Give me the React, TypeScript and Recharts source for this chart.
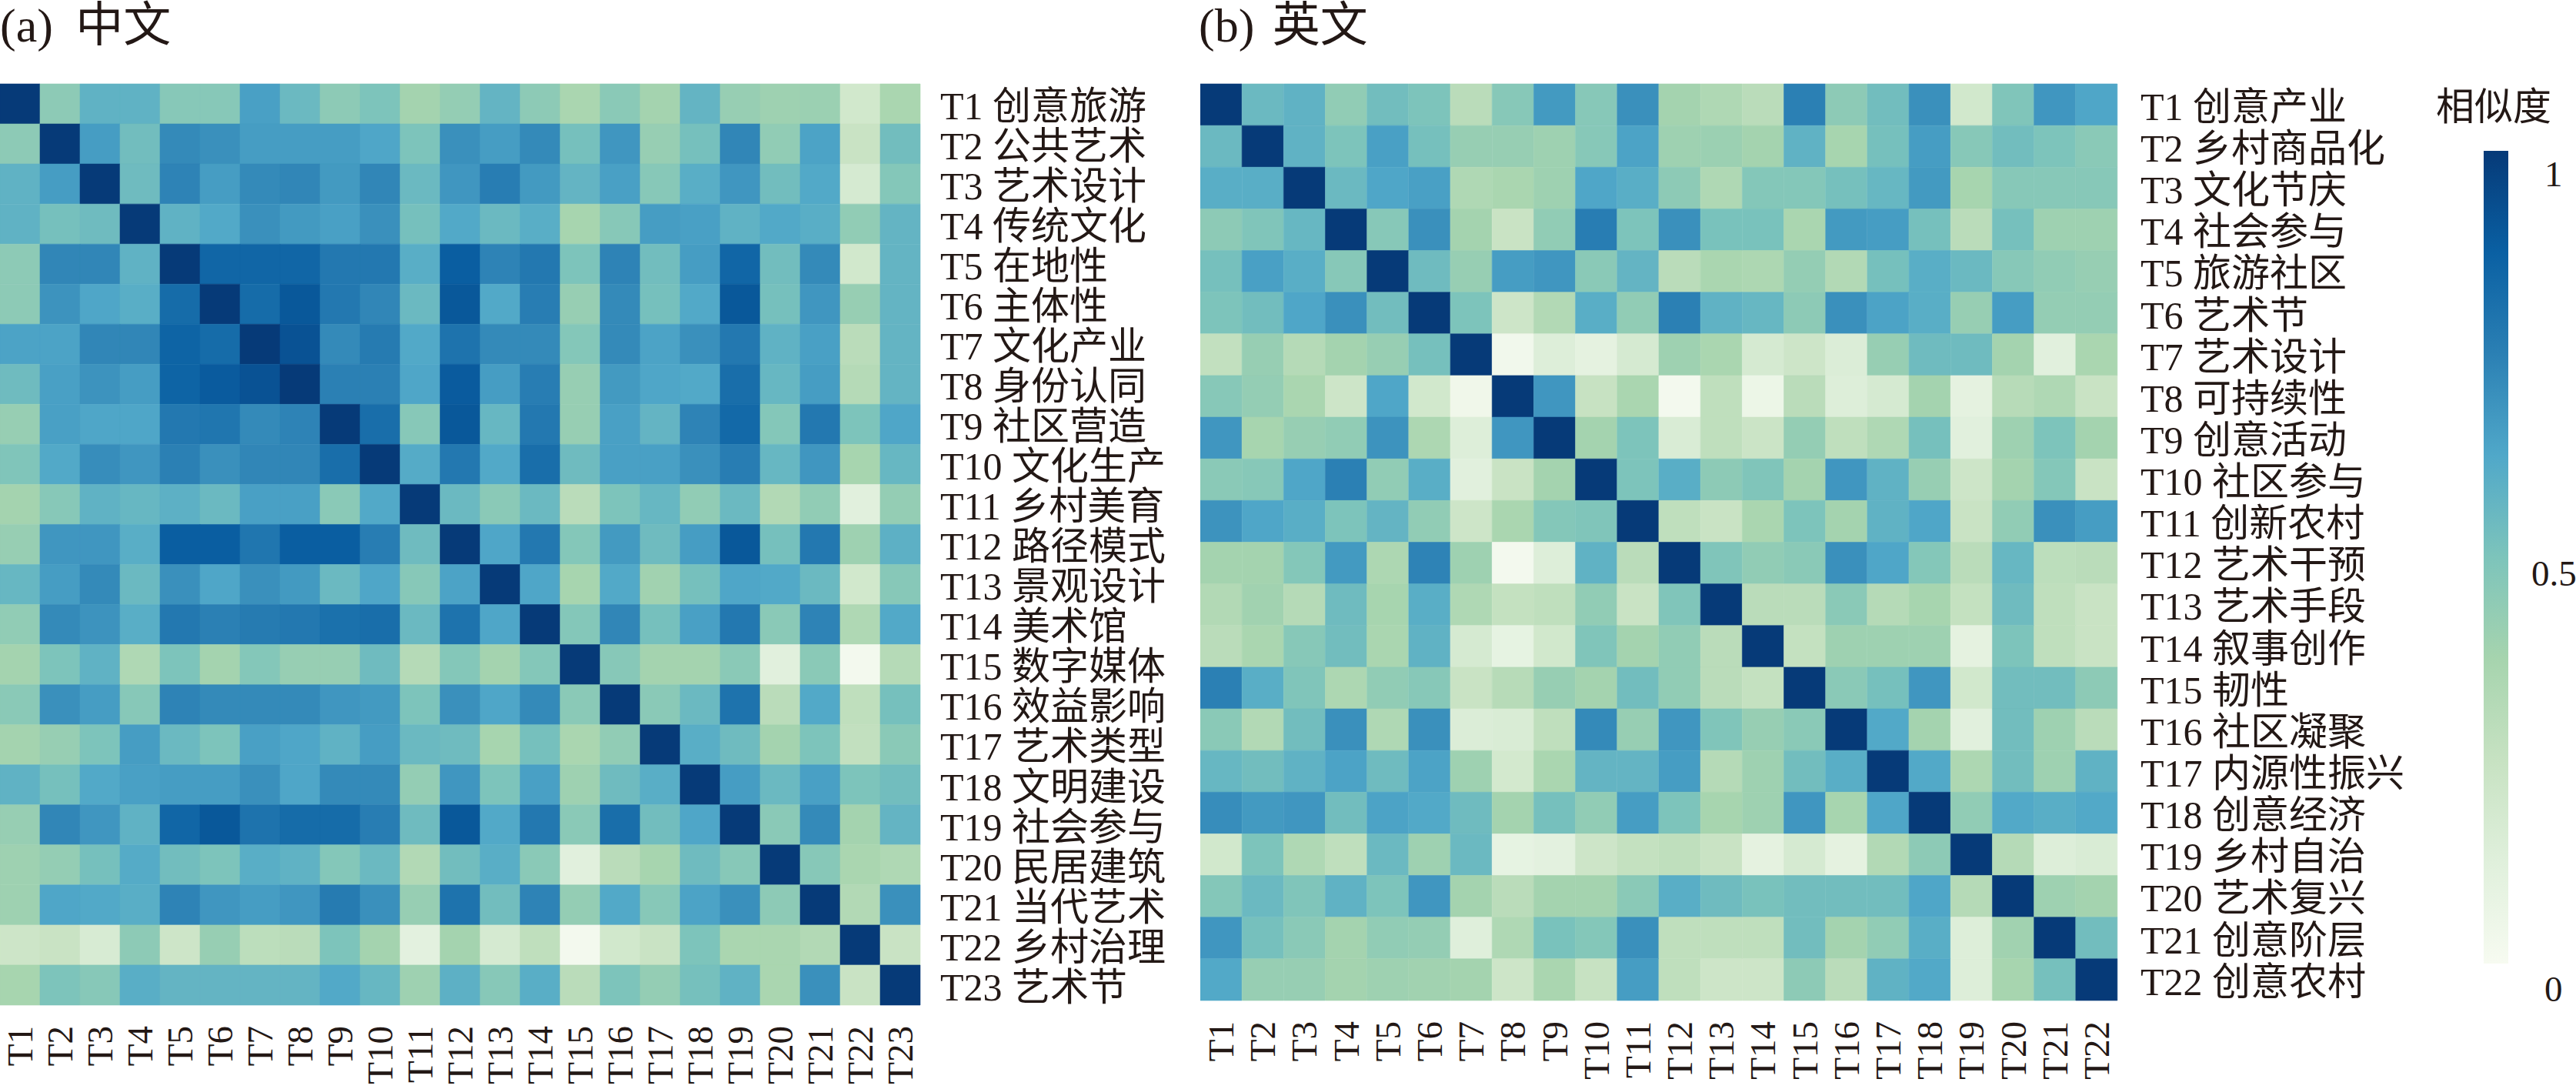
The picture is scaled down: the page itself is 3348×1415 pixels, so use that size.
import React from 'react';
import { BarChart, Bar, Cell, XAxis, YAxis } from 'recharts';

const zhTopics = ['创意旅游', '公共艺术', '艺术设计', '传统文化', '在地性', '主体性', '文化产业', '身份认同', '社区营造', '文化生产', '乡村美育', '路径模式', '景观设计', '美术馆', '数字媒体', '效益影响', '艺术类型', '文明建设', '社会参与', '民居建筑', '当代艺术', '乡村治理', '艺术节'];
const enTopics = ['创意产业', '乡村商品化', '文化节庆', '社会参与', '旅游社区', '艺术节', '艺术设计', '可持续性', '创意活动', '社区参与', '创新农村', '艺术干预', '艺术手段', '叙事创作', '韧性', '社区凝聚', '内源性振兴', '创意经济', '乡村自治', '艺术复兴', '创意阶层', '创意农村'];

const zhSimilarity = [
  [1, .45, .58, .58, .47, .47, .65, .55, .45, .5, .38, .43, .57, .45, .36, .46, .38, .57, .42, .4, .41, .2, .36],
  [.45, 1, .66, .53, .72, .7, .66, .66, .66, .63, .5, .7, .66, .72, .52, .68, .42, .52, .73, .44, .64, .24, .53],
  [.58, .66, 1, .54, .74, .66, .72, .73, .67, .73, .55, .68, .76, .67, .57, .65, .47, .6, .68, .53, .62, .18, .48],
  [.58, .52, .54, 1, .58, .62, .7, .67, .65, .7, .52, .62, .55, .6, .37, .47, .66, .65, .58, .62, .6, .44, .57],
  [.45, .73, .73, .58, 1, .85, .85, .85, .78, .78, .6, .88, .74, .78, .5, .74, .53, .66, .85, .53, .72, .2, .57],
  [.45, .69, .63, .6, .83, 1, .83, .9, .78, .73, .55, .9, .62, .76, .42, .72, .52, .62, .9, .52, .68, .42, .57],
  [.64, .64, .73, .73, .86, .83, 1, .92, .72, .77, .62, .8, .72, .72, .48, .72, .64, .7, .78, .58, .65, .3, .57],
  [.54, .65, .69, .66, .86, .89, .92, 1, .75, .75, .63, .89, .66, .76, .42, .67, .63, .62, .82, .56, .66, .32, .57],
  [.42, .65, .63, .63, .78, .79, .72, .74, 1, .82, .47, .9, .56, .78, .42, .65, .57, .74, .84, .48, .78, .5, .63],
  [.49, .62, .71, .68, .75, .7, .73, .73, .82, 1, .61, .78, .62, .82, .54, .65, .65, .7, .76, .56, .68, .37, .56],
  [.38, .47, .58, .56, .59, .55, .65, .65, .46, .62, 1, .55, .46, .55, .3, .5, .56, .44, .55, .33, .44, .12, .43],
  [.42, .68, .68, .6, .88, .88, .79, .88, .88, .76, .54, 1, .63, .78, .48, .67, .54, .66, .9, .52, .78, .4, .59],
  [.56, .66, .72, .55, .7, .63, .7, .67, .55, .63, .47, .64, 1, .63, .37, .62, .39, .52, .63, .62, .55, .2, .47],
  [.44, .72, .69, .6, .78, .75, .77, .78, .81, .82, .55, .8, .63, 1, .48, .73, .52, .65, .78, .46, .74, .34, .62],
  [.38, .5, .58, .34, .5, .38, .48, .42, .42, .54, .32, .48, .38, .48, 1, .47, .38, .38, .46, .12, .46, .02, .32],
  [.46, .7, .66, .47, .74, .72, .72, .72, .68, .67, .5, .7, .63, .72, .46, 1, .46, .55, .8, .3, .62, .28, .52],
  [.38, .42, .5, .66, .55, .5, .65, .63, .58, .66, .55, .54, .37, .52, .36, .44, 1, .6, .54, .38, .5, .27, .46],
  [.58, .52, .62, .65, .66, .66, .7, .63, .72, .72, .43, .68, .5, .65, .4, .54, .6, 1, .66, .55, .65, .5, .53],
  [.42, .73, .68, .58, .85, .9, .8, .83, .83, .76, .54, .9, .62, .78, .46, .82, .53, .63, 1, .46, .72, .38, .57],
  [.4, .43, .52, .61, .53, .5, .6, .58, .48, .55, .33, .53, .6, .46, .12, .3, .37, .54, .47, 1, .47, .36, .34],
  [.4, .63, .62, .6, .74, .68, .66, .68, .77, .7, .42, .8, .53, .74, .43, .62, .47, .64, .7, .45, 1, .33, .7],
  [.22, .24, .17, .45, .22, .42, .29, .3, .5, .38, .11, .38, .18, .28, .02, .2, .24, .5, .36, .36, .33, 1, .24],
  [.37, .5, .47, .6, .57, .57, .57, .57, .62, .56, .4, .59, .47, .6, .3, .5, .43, .52, .58, .36, .7, .24, 1],
];

const enSimilarity = [
  [1, .55, .58, .44, .53, .5, .3, .47, .67, .47, .7, .38, .34, .3, .75, .45, .53, .7, .2, .49, .68, .63],
  [.55, 1, .58, .5, .65, .52, .42, .42, .4, .47, .64, .4, .41, .38, .58, .37, .52, .66, .47, .53, .5, .46],
  [.6, .6, 1, .55, .63, .65, .34, .36, .4, .63, .6, .45, .34, .48, .48, .52, .56, .67, .37, .47, .47, .47],
  [.45, .49, .56, 1, .47, .7, .38, .24, .44, .76, .5, .7, .51, .51, .36, .67, .66, .52, .3, .52, .4, .4],
  [.52, .65, .6, .47, 1, .54, .42, .66, .68, .46, .57, .3, .36, .35, .43, .33, .52, .6, .55, .47, .44, .42],
  [.5, .53, .63, .7, .53, 1, .5, .22, .33, .6, .44, .75, .58, .56, .45, .7, .64, .6, .42, .66, .43, .43],
  [.27, .42, .32, .38, .42, .52, 1, .03, .14, .1, .18, .4, .36, .18, .22, .15, .42, .54, .54, .38, .12, .36],
  [.47, .43, .36, .22, .63, .2, .04, 1, .68, .25, .36, .02, .28, .06, .3, .14, .18, .38, .1, .31, .34, .24],
  [.68, .37, .42, .44, .69, .35, .14, .68, 1, .38, .5, .16, .28, .23, .43, .28, .34, .52, .12, .4, .5, .38],
  [.46, .47, .63, .75, .44, .6, .12, .24, .38, 1, .5, .6, .45, .49, .38, .68, .58, .42, .22, .38, .48, .24],
  [.69, .63, .6, .5, .57, .44, .22, .36, .48, .49, 1, .28, .24, .36, .5, .38, .58, .63, .24, .44, .7, .66],
  [.38, .38, .48, .67, .35, .74, .4, .02, .14, .58, .3, 1, .49, .44, .46, .7, .63, .48, .3, .56, .29, .3],
  [.33, .39, .32, .54, .37, .6, .34, .26, .28, .44, .24, .49, 1, .3, .3, .46, .32, .37, .26, .54, .28, .24],
  [.3, .36, .47, .53, .36, .58, .18, .09, .2, .49, .38, .44, .3, 1, .26, .4, .4, .4, .1, .5, .28, .24],
  [.75, .6, .49, .35, .44, .47, .24, .31, .42, .38, .53, .44, .3, .26, 1, .46, .52, .68, .2, .53, .53, .45],
  [.46, .33, .53, .7, .34, .7, .15, .16, .28, .72, .42, .68, .49, .42, .46, 1, .62, .38, .12, .53, .4, .3],
  [.56, .53, .58, .64, .54, .64, .4, .19, .36, .57, .57, .66, .32, .4, .53, .6, 1, .62, .35, .53, .4, .58],
  [.71, .67, .68, .53, .64, .62, .54, .38, .52, .44, .66, .5, .37, .4, .68, .37, .63, 1, .44, .62, .6, .62],
  [.2, .5, .34, .28, .55, .4, .55, .09, .11, .22, .26, .28, .24, .1, .18, .1, .33, .45, 1, .32, .14, .16],
  [.48, .55, .49, .58, .5, .68, .38, .3, .38, .38, .46, .6, .54, .51, .53, .53, .53, .63, .32, 1, .4, .38],
  [.68, .52, .46, .38, .44, .43, .13, .34, .51, .48, .7, .28, .28, .28, .53, .38, .44, .6, .14, .39, 1, .53],
  [.62, .42, .42, .38, .4, .39, .38, .22, .36, .25, .66, .28, .22, .22, .45, .3, .58, .62, .14, .37, .52, 1],
];

const colorStops = ['#f7fbf1', '#e0f0dc', '#c7e2c2', '#a6d4ae', '#7dc4bb', '#50a8c9', '#2b80b4', '#0a60a3', '#063a78'];
const scaleLabels = ['1', '0.5', '0'];

const FONT = '"Liberation Serif", "Noto Sans CJK SC", serif';
const INK = '#231815';

const hexToRgb = (hex: string) => [1, 3, 5].map((i) => parseInt(hex.slice(i, i + 2), 16));

const colorFor = (v: number) => {
  const pos = Math.min(Math.max(v, 0), 1) * (colorStops.length - 1);
  const i = Math.min(Math.floor(pos), colorStops.length - 2);
  const a = hexToRgb(colorStops[i]);
  const b = hexToRgb(colorStops[i + 1]);
  const c = a.map((x, k) => Math.round(x + (b[k] - x) * (pos - i)));
  return `rgb(${c[0]},${c[1]},${c[2]})`;
};

const ColumnTick = ({ x, y, payload }: any) => (
  <text
    x={x}
    y={y + 19}
    transform={`rotate(-90 ${x} ${y + 19})`}
    textAnchor="end"
    dominantBaseline="central"
    fontSize={47}
    fontFamily={FONT}
    fill={INK}
  >
    {payload.value}
  </text>
);

interface HeatmapProps {
  matrix: number[][];
  topics: string[];
  left: number;
  plotWidth: number;
  plotHeight: number;
  labelGap: number;
}

const Heatmap: React.FC<HeatmapProps> = ({ matrix, topics, left, plotWidth, plotHeight, labelGap }) => {
  const names = topics.map((_, i) => `T${i + 1}`);
  const rowLabels = topics.map((t, i) => `${names[i]} ${t}`);
  // every cell is one unit tall, the colour carries the value
  const data = names.map((name) => {
    const row: Record<string, any> = { name };
    matrix.forEach((_, r) => {
      row[`r${r}`] = 1;
    });
    return row;
  });
  const axisWidth = 400;
  const top = 109;
  const bottom = 109;

  return (
    <div style={{ position: 'absolute', left, top: 0 }}>
      <BarChart
        width={plotWidth + axisWidth}
        height={top + plotHeight + bottom}
        data={data}
        barCategoryGap={0}
        margin={{ top, right: 0, bottom: 0, left: 0 }}
      >
        <XAxis
          dataKey="name"
          type="category"
          interval={0}
          height={bottom}
          axisLine={false}
          tickLine={false}
          tick={ColumnTick}
        />
        <YAxis
          type="number"
          orientation="right"
          reversed
          domain={[0, topics.length]}
          ticks={topics.map((_, i) => i + 0.5)}
          interval={0}
          width={axisWidth}
          axisLine={false}
          tickLine={false}
          tickMargin={labelGap}
          tickFormatter={(v: number) => rowLabels[Math.floor(v)]}
          tick={{ fontSize: 50, fontFamily: FONT, fill: INK, dy: 2 }}
        />
        {matrix.map((values, r) => (
          <Bar key={r} dataKey={`r${r}`} stackId="cells" isAnimationActive={false}>
            {values.map((v, c) => (
              <Cell key={c} fill={colorFor(v)} stroke={colorFor(v)} strokeWidth={0.6} />
            ))}
          </Bar>
        ))}
      </BarChart>
    </div>
  );
};

const labelStyle: React.CSSProperties = {
  position: 'absolute',
  fontFamily: FONT,
  color: INK,
  whiteSpace: 'nowrap',
  lineHeight: 1,
};

export default function App() {
  return (
    <div style={{ position: 'absolute', left: 0, top: 0, width: 3348, height: 1415, background: '#fff', overflow: 'hidden' }}>
      <div style={{ ...labelStyle, left: 0, top: 2, fontSize: 62, wordSpacing: 14 }}>(a) 中文</div>
      <div style={{ ...labelStyle, left: 1558, top: 2, fontSize: 62, wordSpacing: 8 }}>(b) 英文</div>
      <Heatmap matrix={zhSimilarity} topics={zhTopics} left={0} plotWidth={1196} plotHeight={1197} labelGap={20} />
      <Heatmap matrix={enSimilarity} topics={enTopics} left={1560} plotWidth={1192} plotHeight={1191} labelGap={24} />
      <div style={{ ...labelStyle, left: 3166, top: 114, fontSize: 50 }}>相似度</div>
      <div
        style={{
          position: 'absolute',
          left: 3228,
          top: 196,
          width: 32,
          height: 1056,
          background: `linear-gradient(to top, ${colorStops.join(', ')})`,
        }}
      />
      <div style={{ ...labelStyle, left: 3307, top: 203, fontSize: 47 }}>{scaleLabels[0]}</div>
      <div style={{ ...labelStyle, left: 3290, top: 722, fontSize: 47 }}>{scaleLabels[1]}</div>
      <div style={{ ...labelStyle, left: 3307, top: 1262, fontSize: 47 }}>{scaleLabels[2]}</div>
    </div>
  );
}
